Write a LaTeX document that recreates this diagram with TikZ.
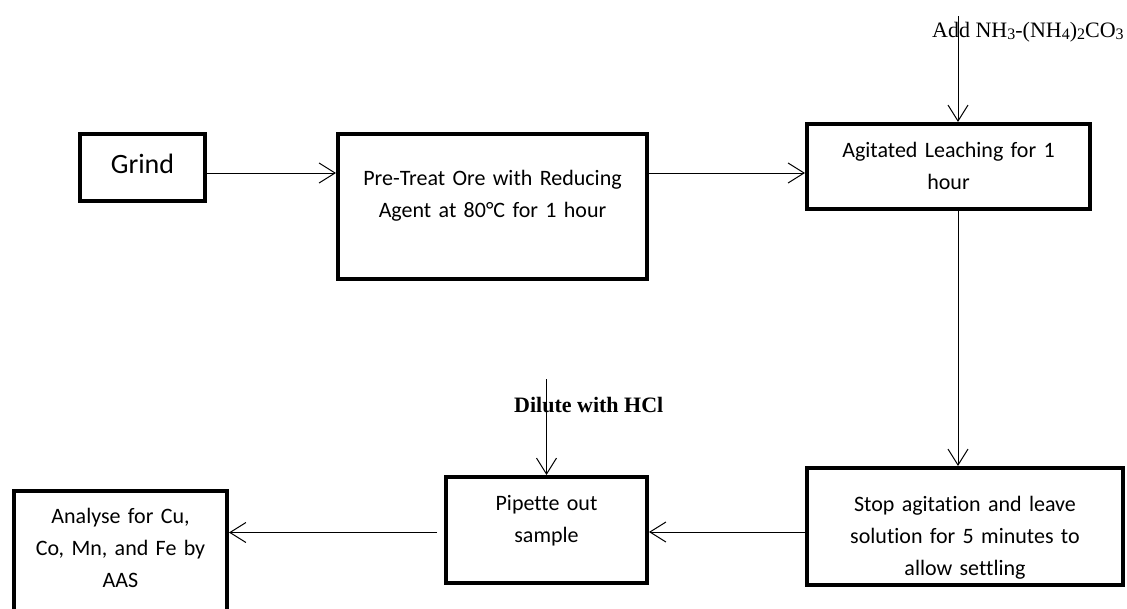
\documentclass[tikz,border=0pt]{standalone}
\usepackage{fontspec}
\setmainfont{Carlito}[Ligatures=CommonOff]
\newfontfamily\timesfont{Liberation Serif}
\newcommand\chemsub[1]{\raisebox{-2.5pt}{\fontsize{16}{16}\selectfont #1}}
\usetikzlibrary{arrows.meta}
\begin{document}
\begin{tikzpicture}[x=1pt,y=-1pt,
  procbox/.style={draw,line width=4pt,inner sep=0pt},
  boxtext/.style={font=\fontsize{22}{32}\selectfont,align=center,inner sep=0pt,anchor=base},
  addtext/.style={font=\timesfont\fontsize{22}{26}\selectfont,inner sep=0pt,anchor=base west},
  diltext/.style={font=\timesfont\bfseries\fontsize{22}{26}\selectfont,inner sep=0pt,anchor=base west},
  arr/.style={line width=1pt,-{Straight Barb[length=16pt,width=20pt]}}]
\useasboundingbox (0,0) rectangle (1127,608);
\clip (0,0) rectangle (1127,608);
% boxes
\node[procbox,minimum width=125pt,minimum height=67pt] (grind) at (142.5,167.5) {};
\node[procbox,minimum width=309pt,minimum height=145pt] (pretreat) at (492.5,206.5) {};
\node[procbox,minimum width=283pt,minimum height=85pt] (agitated) at (948.5,166.5) {};
\node[procbox,minimum width=316pt,minimum height=117pt] (stop) at (965,526.5) {};
\node[procbox,minimum width=201pt,minimum height=106pt] (pipette) at (546.5,530) {};
\node[procbox,minimum width=213pt,minimum height=149pt] (analyse) at (120.5,565.5) {};
% box texts
\node[boxtext,font=\fontsize{28}{34}\selectfont] (grindT) at (142.5,173) {Grind};
\node[boxtext,text width=300pt] (pretreatT) at (492.5,185) {Pre-Treat Ore with Reducing\\Agent at 80°C for 1 hour};
\node[boxtext,text width=270pt] (agitatedT) at (948.5,157) {Agitated Leaching for 1\\hour};
\node[boxtext,text width=300pt] (stopT) at (965,511) {Stop agitation and leave\\solution for 5 minutes to\\allow settling};
\node[boxtext,text width=190pt] (pipetteT) at (546.5,510) {Pipette out\\sample};
\node[boxtext,text width=205pt] (analyseT) at (120.5,523) {Analyse for Cu,\\Co, Mn, and Fe by\\AAS};
% side labels
\node[addtext] (addT) at (932,37) {Add NH\chemsub{3}-(NH\chemsub{4})\chemsub{2}CO\chemsub{3}};
\node[diltext] (diluteT) at (514,412) {Dilute with HCl};
\coordinate (addTop) at (958,16);
\coordinate (dilTop) at (546.5,379);
% connectors
\draw[arr] ([yshift=-5.5pt]grind.east) -- ([yshift=-5.5pt]grind.east -| pretreat.west);
\draw[arr] ([yshift=-6.5pt]agitated.west -| pretreat.east) -- ([yshift=-6.5pt]agitated.west);
\draw[arr] (addTop) -- (addTop |- agitated.north);
\draw[arr] ([xshift=9.5pt]agitated.south) -- ([xshift=9.5pt]agitated.south |- stop.north);
\draw[arr] ([yshift=-5.5pt]stop.west) -- ([yshift=-5.5pt]stop.west -| pipette.east);
\draw[arr] (dilTop) -- (dilTop |- pipette.north);
\draw[arr] ([xshift=-7pt,yshift=-2.5pt]pipette.west) -- ([yshift=-2.5pt]pipette.west -| analyse.east);
\end{tikzpicture}
\end{document}
